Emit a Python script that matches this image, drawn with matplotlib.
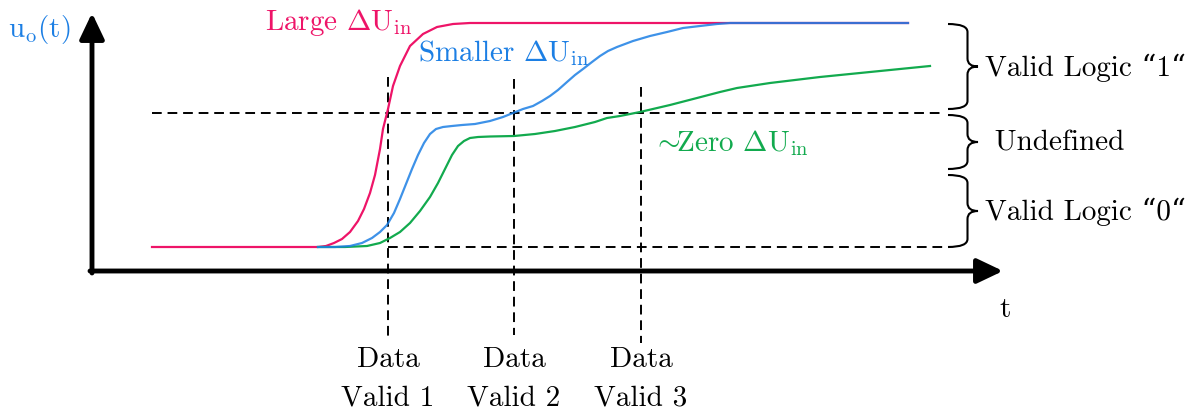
import matplotlib
matplotlib.use("Agg")
import matplotlib.pyplot as plt
from matplotlib.path import Path
from matplotlib.patches import PathPatch

plt.rcParams['font.family'] = ['cmr10', 'DejaVu Serif']
plt.rcParams['mathtext.fontset'] = 'cm'
plt.rcParams['axes.unicode_minus'] = False

# curve samples (x = time, y = drawing units, down is low voltage)
red_x = [152, 318, 326, 334, 342, 350, 358, 364, 370, 375, 380, 383, 388, 393, 400, 410, 423, 437, 453, 470, 487, 908]
red_y = [248, 248, 247, 244, 240, 233, 222, 210, 194, 176, 150, 130, 110, 87, 67, 47, 35, 28, 25, 24, 24, 24]

blue_x = [318, 335, 350, 362, 372, 380, 387, 394, 400, 406, 412, 418, 424, 430, 436, 443, 452, 462, 475, 490,
          503, 513, 523, 533, 542, 550, 558, 567, 575, 583, 592, 600, 608, 617, 625, 633, 650, 667, 683, 700,
          717, 730, 908]
blue_y = [248, 248, 247, 244, 239, 233, 226, 214, 200, 185, 170, 156, 144, 135, 130, 128, 127, 126, 125, 122,
          118, 114, 110, 107, 102, 97, 91, 83, 76, 70, 63, 57, 52, 48, 45, 42, 37, 33, 29, 27,
          25, 24, 24]

green_x = [318, 345, 367, 380, 390, 400, 410, 420, 430, 438, 446, 452, 458, 464, 470, 478, 490, 514, 535, 555,
           575, 595, 607, 620, 640, 670, 697, 720, 737, 770, 820, 870, 930]
green_y = [248, 248, 247, 244, 239, 233, 224, 212, 198, 184, 168, 156, 147, 142, 139, 138, 137.5, 137, 135, 132,
           128, 123, 119, 117, 113, 106, 99, 93, 89, 84, 78, 73, 67]

v_high = 114
v_low = 248
valid_x = [388, 514, 641]
valid_top = [78, 80, 88]
valid_bot = [338, 336, 344]
valid_labels = ["Data\nValid 1", "Data\nValid 2", "Data\nValid 3"]

regions = [(25, 110, "Valid Logic “1“"), (116, 170, " Undefined"), (176, 248, "Valid Logic “0“")]

RED = '#EE1468'
BLUE = '#1C7FE4'
GREEN = '#12AA4E'

fig = plt.figure(figsize=(11.93, 4.10), dpi=100)
ax = fig.add_axes([0, 0, 1, 1])
ax.set_xlim(0, 1193)
ax.set_ylim(410, 0)
ax.axis('off')

# axes arrows
arr = dict(arrowstyle='-|>,head_length=1.05,head_width=0.5', lw=3.5, color='k',
           shrinkA=0, shrinkB=0, mutation_scale=15)
ax.annotate('', xy=(92, 14), xytext=(92, 274), arrowprops=arr)
ax.annotate('', xy=(1003, 272), xytext=(90, 272), arrowprops=arr)

# dashed guides
dash = dict(color='k', lw=1.4, dashes=(5, 3))
ax.plot([152, 945], [v_high, v_high], **dash)
ax.plot([388, 945], [v_low, v_low], **dash)
for x, t, b in zip(valid_x, valid_top, valid_bot):
    ax.plot([x, x], [t, b], **dash)

# curves
ax.plot(red_x, red_y, color=RED, lw=1.6, solid_joinstyle='round')
ax.plot(green_x, green_y, color=GREEN, lw=1.6, solid_joinstyle='round')
ax.plot(blue_x, blue_y, color=BLUE, lw=1.6, alpha=0.85, solid_joinstyle='round')

fs = 21
ax.text(8, 30, r"$\mathrm{u_o(t)}$", color=BLUE, fontsize=fs, va='center', ha='left')
ax.text(1005, 310, "t", fontsize=fs, va='center', ha='center')
ax.text(265, 22, r"Large $\Delta\mathrm{U}_{\mathrm{in}}$", color=RED, fontsize=fs, va='center')
ax.text(418, 53, r"Smaller $\Delta\mathrm{U}_{\mathrm{in}}$", color=BLUE, fontsize=fs, va='center')
ax.text(652, 143, r"$\sim\!\!$Zero $\Delta\mathrm{U}_{\mathrm{in}}$", color=GREEN, fontsize=fs, va='center')

for x, lab in zip(valid_x, valid_labels):
    ax.text(x, 379, lab, fontsize=fs, ha='center', va='center', linespacing=1.6)


def brace(ax, x, y0, y1, w=30, r=8):
    ym = (y0 + y1) / 2
    xm = x + w * 0.65
    verts = [(x, y0), (xm, y0), (xm, y0 + r), (xm, ym - r), (xm, ym), (x + w, ym),
             (xm, ym), (xm, ym + r), (xm, y1 - r), (xm, y1), (x, y1)]
    codes = [Path.MOVETO, Path.CURVE3, Path.CURVE3, Path.LINETO, Path.CURVE3, Path.CURVE3,
             Path.CURVE3, Path.CURVE3, Path.LINETO, Path.CURVE3, Path.CURVE3]
    ax.add_patch(PathPatch(Path(verts, codes), fill=False, lw=1.5, color='k'))
    return ym


for y0, y1, lab in regions:
    ym = brace(ax, 948, y0, y1)
    ax.text(985, ym, lab, fontsize=fs, va='center', ha='left')

fig.savefig("out.png", dpi=100)
